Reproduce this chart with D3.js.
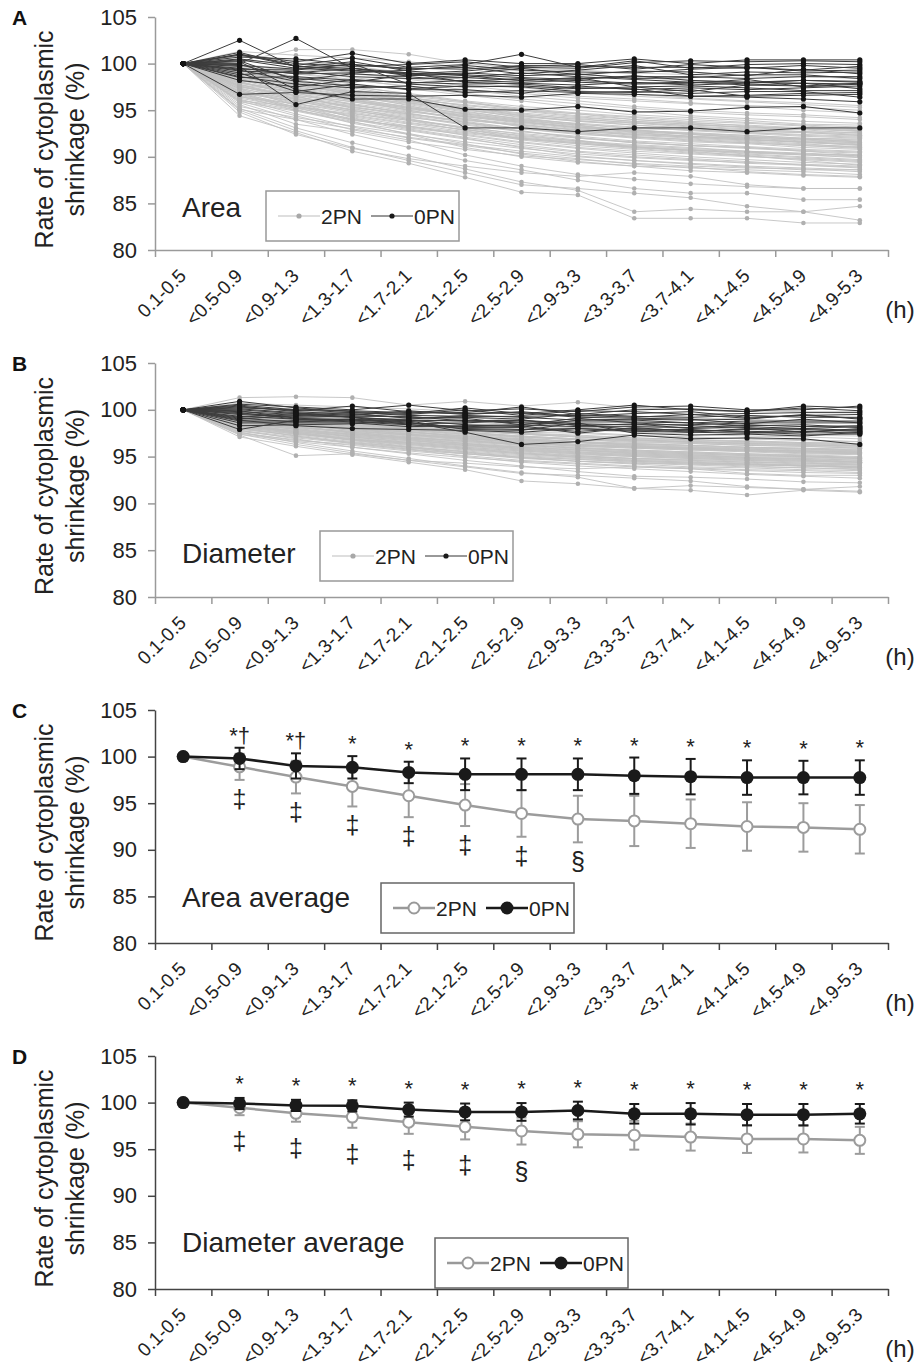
<!DOCTYPE html>
<html>
<head>
<meta charset="utf-8">
<script src="https://cdn.jsdelivr.net/npm/d3@7"></script>
<style>
  body { margin: 0; background: #fff; }
  svg { display: block; font-family: Arial, "Liberation Sans", sans-serif; }
</style>
</head>
<body>
<svg id="chart" width="917" height="1369"></svg>
<script>
// categories and axis ticks
const timeBins = ["0.1-0.5", "<0.5-0.9", "<0.9-1.3", "<1.3-1.7", "<1.7-2.1", "<2.1-2.5", "<2.5-2.9",
                  "<2.9-3.3", "<3.3-3.7", "<3.7-4.1", "<4.1-4.5", "<4.5-4.9", "<4.9-5.3"];
const yTicks = [80, 85, 90, 95, 100, 105];
const startValue = 100;

// Panel A - individual embryos, area (values from 2nd time bin on)
const areaLines2PN = [
  [99.5, 98.9, 98.2, 97.6, 97.0, 96.8, 96.3, 96.0, 95.7, 95.5, 95.3, 95.0],
  [98.2, 97.0, 96.1, 95.2, 94.5, 93.8, 93.1, 92.9, 92.4, 92.1, 91.9, 91.6],
  [97.1, 95.8, 94.2, 93.0, 92.1, 91.3, 90.6, 90.2, 89.8, 89.5, 89.1, 88.8],
  [96.0, 94.4, 92.9, 91.8, 90.2, 89.0, 88.1, 87.6, 87.1, 86.8, 86.6, 86.6],
  [95.2, 93.1, 91.5, 90.1, 88.7, 87.3, 86.4, 84.1, 84.4, 84.1, 84.1, 83.2],
  [94.4, 92.6, 90.6, 89.3, 87.8, 86.2, 85.9, 83.4, 83.4, 83.4, 82.9, 82.9],
  [99.0, 98.3, 97.4, 96.5, 95.9, 95.0, 94.6, 94.0, 93.7, 93.3, 93.0, 92.8],
  [98.7, 97.6, 96.8, 96.0, 95.1, 94.2, 93.5, 93.0, 92.9, 92.6, 92.3, 92.1],
  [101.3, 100.9, 100.6, 100.2, 99.6, 99.2, 98.8, 98.5, 98.2, 97.9, 97.6, 97.4],
  [100.2, 101.5, 101.5, 101.0, 100.0, 99.5, 99.3, 99.0, 98.8, 98.7, 98.6, 98.4],
  [97.6, 96.5, 95.3, 94.4, 93.5, 92.8, 92.0, 91.6, 91.2, 91.0, 90.6, 90.4],
  [96.8, 95.1, 93.6, 92.5, 91.4, 90.3, 89.5, 89.0, 88.5, 88.3, 88.0, 87.8],
  [95.8, 94.0, 92.4, 91.0, 89.6, 88.6, 87.5, 86.6, 86.1, 86.1, 85.4, 85.4],
  [99.8, 99.2, 98.5, 97.9, 97.2, 96.5, 96.0, 95.4, 95.0, 94.7, 94.5, 94.2],
  [98.0, 96.8, 95.6, 94.7, 93.7, 92.7, 92.1, 91.5, 91.2, 90.9, 90.6, 90.2],
  [97.3, 95.5, 94.0, 92.9, 92.0, 91.0, 90.1, 89.6, 89.2, 88.9, 88.6, 88.6],
  [99.2, 98.0, 97.1, 96.3, 95.5, 94.9, 94.3, 93.8, 93.5, 93.1, 92.9, 92.5],
  [98.4, 97.2, 96.4, 95.6, 94.6, 93.9, 93.4, 92.7, 92.4, 92.0, 91.7, 91.5],
  [96.5, 95.0, 93.8, 92.4, 91.0, 90.0, 89.4, 89.0, 88.9, 88.4, 88.1, 87.9],
  [100.8, 100.3, 99.7, 99.0, 98.3, 97.7, 97.1, 96.7, 96.3, 96.0, 95.8, 95.5],
  [97.8, 96.2, 95.0, 94.0, 93.2, 92.4, 91.8, 91.0, 90.7, 90.3, 90.0, 89.7],
  [99.6, 98.6, 97.8, 97.3, 96.6, 96.0, 95.3, 94.9, 94.4, 94.1, 93.8, 93.6],
  [98.9, 97.9, 96.6, 95.5, 94.2, 93.2, 92.6, 92.2, 91.8, 91.5, 91.2, 90.9],
  [95.0, 92.8, 91.0, 89.6, 88.3, 87.0, 86.6, 86.1, 85.6, 84.7, 84.1, 84.7],
  [97.4, 96.0, 94.8, 93.9, 92.8, 91.8, 91.2, 90.8, 90.4, 90.1, 89.7, 89.4],
  [100.5, 99.8, 99.0, 98.3, 97.6, 97.0, 96.5, 96.2, 95.8, 95.4, 95.0, 94.7],
  [98.6, 97.4, 96.1, 95.0, 94.0, 93.4, 92.9, 92.4, 92.1, 91.8, 91.6, 91.2],
  [96.2, 94.6, 93.2, 92.0, 91.2, 90.4, 89.8, 89.2, 88.8, 88.6, 88.4, 88.1],
  [99.3, 98.3, 97.2, 96.4, 95.4, 94.4, 93.8, 93.4, 93.0, 92.7, 92.6, 92.3],
  [97.9, 96.8, 95.9, 95.0, 94.1, 93.5, 92.8, 92.3, 92.0, 91.7, 91.4, 91.0],
  [98.1, 96.5, 95.2, 94.1, 93.0, 91.9, 91.4, 90.9, 90.5, 90.2, 89.9, 89.6],
  [99.9, 99.4, 98.9, 98.4, 98.0, 97.4, 96.9, 96.5, 96.2, 95.9, 95.6, 95.3],
  [96.9, 95.3, 93.9, 93.3, 92.6, 92.0, 91.5, 91.1, 90.6, 90.1, 89.6, 89.1],
  [98.5, 97.7, 97.0, 96.3, 95.8, 95.1, 94.6, 94.2, 93.8, 93.6, 93.3, 93.0],
  [97.0, 96.2, 95.5, 94.8, 94.3, 93.7, 93.2, 92.8, 92.5, 92.3, 92.0, 91.9],
  [99.1, 97.8, 96.9, 95.8, 94.9, 94.0, 93.4, 92.6, 92.2, 91.9, 91.5, 91.3],
  [95.6, 93.5, 92.7, 91.6, 90.8, 90.1, 89.7, 89.3, 89.0, 88.8, 88.7, 88.4],
  [98.3, 97.5, 96.6, 96.0, 95.3, 94.6, 94.0, 93.7, 93.3, 93.0, 92.7, 92.6],
  [97.5, 96.4, 95.6, 94.6, 93.8, 93.0, 92.5, 92.0, 91.6, 91.4, 91.0, 90.8],
  [99.4, 98.6, 97.5, 96.8, 96.0, 95.4, 95.0, 94.5, 94.2, 93.9, 93.5, 93.4],
  [96.6, 95.4, 94.5, 93.6, 92.9, 92.3, 91.7, 91.3, 91.0, 90.6, 90.4, 90.1],
  [98.8, 97.9, 96.9, 96.1, 95.6, 95.0, 94.4, 94.0, 93.6, 93.4, 93.1, 92.9],
  [94.8, 92.4, 90.9, 89.8, 89.0, 88.3, 87.9, 88.3, 87.9, 87.0, 86.6, 86.6],
  [97.7, 97.0, 96.4, 95.8, 95.0, 94.3, 93.8, 93.6, 93.4, 93.2, 93.0, 92.7],
  [96.4, 95.7, 94.9, 94.2, 93.6, 93.0, 92.6, 92.1, 91.9, 91.6, 91.3, 91.1],
  [97.2, 95.9, 95.0, 94.0, 93.1, 92.2, 91.7, 91.1, 90.8, 90.5, 90.2, 90.0],
  [98.4, 97.1, 96.0, 95.2, 94.3, 93.6, 93.0, 92.6, 92.2, 92.0, 91.8, 91.5],
  [96.7, 95.6, 94.3, 93.3, 92.3, 91.5, 90.9, 90.4, 90.0, 89.7, 89.4, 89.2],
  [97.9, 97.2, 96.2, 95.4, 94.7, 94.0, 93.6, 93.2, 92.8, 92.5, 92.2, 92.0],
  [95.9, 94.9, 93.7, 92.8, 91.9, 91.1, 90.5, 90.0, 89.7, 89.3, 89.1, 88.9],
  [99.0, 98.1, 97.0, 96.1, 95.2, 94.5, 94.1, 93.6, 93.2, 92.9, 92.7, 92.4],
  [96.3, 95.2, 94.1, 93.1, 92.4, 91.6, 91.0, 90.6, 90.3, 90.0, 89.8, 89.5],
  [98.6, 97.3, 96.3, 95.3, 94.4, 93.8, 93.2, 92.8, 92.6, 92.3, 92.0, 91.8],
  [97.5, 96.6, 95.7, 94.9, 94.0, 93.3, 92.7, 92.4, 92.1, 91.8, 91.6, 91.4],
  [95.4, 94.2, 93.3, 92.4, 91.6, 90.9, 90.3, 89.9, 89.6, 89.4, 89.2, 89.0],
  [98.2, 97.4, 96.5, 95.7, 94.8, 94.1, 93.5, 93.1, 92.9, 92.6, 92.4, 92.2],
  [96.8, 96.0, 95.1, 94.3, 93.4, 92.7, 92.2, 91.7, 91.4, 91.1, 90.8, 90.6],
  [99.3, 98.5, 97.6, 96.7, 95.9, 95.2, 94.7, 94.3, 94.0, 93.7, 93.4, 93.2],
  [97.0, 95.7, 94.7, 93.7, 92.9, 92.1, 91.6, 91.2, 90.9, 90.6, 90.3, 90.1],
  [98.0, 96.9, 96.1, 95.3, 94.6, 93.9, 93.3, 92.9, 92.5, 92.2, 91.9, 91.7],
  [96.1, 95.0, 94.0, 93.2, 92.5, 91.9, 91.4, 91.0, 90.7, 90.5, 90.3, 90.2],
  [99.7, 99.0, 98.3, 97.5, 96.8, 96.2, 95.7, 95.2, 94.8, 94.5, 94.3, 94.0],
  [97.3, 96.3, 95.4, 94.5, 93.7, 93.0, 92.4, 92.1, 91.7, 91.5, 91.2, 91.0],
  [98.5, 97.7, 96.7, 95.9, 95.1, 94.4, 93.9, 93.4, 93.1, 92.8, 92.6, 92.3],
  [96.5, 95.3, 94.4, 93.5, 92.7, 92.0, 91.5, 91.0, 90.7, 90.4, 90.2, 89.9],
  [97.7, 96.6, 95.9, 95.1, 94.4, 93.7, 93.1, 92.7, 92.4, 92.1, 91.9, 91.6],
  [95.1, 94.0, 93.0, 92.1, 91.3, 90.6, 90.0, 89.6, 89.3, 89.0, 88.8, 88.6],
  [98.9, 97.7, 96.8, 96.0, 95.3, 94.7, 94.2, 93.8, 93.5, 93.2, 93.0, 92.8],
  [96.0, 95.4, 94.6, 93.9, 93.1, 92.5, 92.0, 91.5, 91.2, 91.0, 90.7, 90.5],
  [97.6, 96.1, 95.3, 94.6, 93.9, 93.4, 92.9, 92.5, 92.2, 91.9, 91.6, 91.3]
];
const areaLines0PN = [
  [102.5, 99.6, 100.2, 99.2, 98.8, 98.5, 98.3, 98.7, 98.2, 98.0, 98.2, 98.0],
  [100.0, 102.7, 99.5, 98.8, 98.5, 99.0, 98.6, 98.3, 98.0, 98.0, 97.9, 97.8],
  [101.0, 100.2, 101.1, 100.0, 100.4, 100.0, 100.0, 100.5, 100.0, 100.4, 100.4, 100.4],
  [100.5, 99.8, 100.6, 99.6, 99.9, 101.0, 99.6, 100.3, 99.5, 99.9, 100.0, 99.9],
  [99.8, 99.4, 99.9, 99.5, 99.4, 99.8, 99.7, 99.6, 99.6, 99.5, 99.8, 99.5],
  [99.5, 98.9, 99.0, 99.3, 99.8, 99.3, 99.1, 99.0, 99.4, 99.6, 99.2, 99.3],
  [99.2, 99.0, 99.5, 98.7, 98.9, 99.5, 98.8, 99.2, 99.1, 98.7, 99.4, 98.9],
  [98.8, 99.2, 98.6, 98.4, 98.5, 98.2, 98.4, 98.6, 98.6, 98.4, 98.6, 98.6],
  [98.5, 98.6, 98.2, 98.0, 97.8, 97.9, 97.7, 98.0, 97.7, 97.9, 98.2, 98.1],
  [99.0, 97.0, 97.8, 97.2, 97.2, 96.8, 97.6, 97.2, 97.4, 97.2, 97.4, 97.6],
  [96.7, 96.9, 96.6, 96.5, 96.6, 96.4, 96.8, 96.7, 96.5, 96.6, 96.8, 96.9],
  [100.2, 97.2, 96.2, 96.2, 95.1, 95.0, 95.4, 94.8, 94.9, 95.3, 95.4, 94.7],
  [99.7, 95.6, 97.0, 96.8, 93.1, 93.1, 92.7, 93.1, 93.1, 92.7, 93.1, 93.1],
  [101.0, 99.7, 99.3, 98.9, 99.2, 99.7, 99.9, 99.4, 99.9, 99.6, 99.3, 99.7],
  [100.7, 100.5, 99.9, 99.4, 99.6, 98.9, 99.3, 99.8, 98.8, 99.1, 99.0, 99.1],
  [100.3, 98.2, 98.9, 98.6, 98.1, 98.4, 98.0, 97.8, 97.9, 98.3, 97.5, 97.8],
  [99.4, 99.3, 100.0, 97.8, 97.5, 97.6, 97.3, 97.5, 97.0, 97.7, 97.9, 97.3],
  [98.6, 97.8, 97.4, 97.6, 96.9, 97.1, 96.9, 97.0, 96.8, 97.0, 97.0, 96.4],
  [99.9, 98.4, 98.0, 98.8, 99.0, 98.7, 98.9, 98.4, 98.5, 98.8, 98.8, 98.4],
  [100.9, 100.0, 99.7, 99.9, 100.2, 99.6, 99.5, 100.1, 100.3, 100.2, 100.3, 100.2],
  [99.3, 98.1, 97.6, 97.3, 97.6, 97.5, 97.0, 96.9, 97.2, 96.5, 96.6, 96.7],
  [100.4, 99.5, 99.2, 99.0, 98.7, 98.2, 98.5, 97.5, 97.6, 97.4, 97.1, 97.1],
  [101.2, 99.7, 99.5, 99.0, 98.0, 97.8, 97.4, 97.3, 96.5, 96.4, 96.2, 95.9],
  [98.2, 97.5, 98.3, 97.9, 98.2, 98.0, 98.2, 97.9, 98.0, 97.7, 97.6, 97.9]
];

// Panel B - individual embryos, diameter
const diamLines2PN = [
  [99.8, 99.4, 99.1, 98.8, 98.5, 98.3, 98.1, 98.0, 97.8, 97.7, 97.6, 97.5],
  [99.1, 98.5, 98.0, 97.6, 97.2, 96.9, 96.6, 96.4, 96.2, 96.0, 95.9, 95.7],
  [98.5, 97.9, 97.1, 96.5, 96.0, 95.6, 95.2, 95.0, 94.8, 94.6, 94.4, 94.2],
  [98.0, 97.2, 96.4, 95.8, 95.0, 94.4, 94.0, 93.7, 93.4, 93.1, 92.9, 92.7],
  [97.6, 96.5, 95.6, 94.8, 94.0, 93.3, 92.8, 91.6, 91.9, 91.7, 91.5, 91.3],
  [97.1, 96.1, 95.2, 94.4, 93.6, 92.4, 92.1, 91.6, 91.4, 90.9, 91.4, 91.2],
  [99.5, 99.1, 98.7, 98.3, 97.9, 97.5, 97.3, 97.0, 96.8, 96.6, 96.5, 96.4],
  [99.3, 98.8, 98.4, 97.9, 97.5, 97.1, 96.8, 96.5, 96.4, 96.2, 96.1, 95.9],
  [100.7, 100.5, 100.3, 100.1, 99.8, 99.6, 99.4, 99.3, 99.1, 99.0, 98.8, 98.7],
  [101.3, 101.4, 101.3, 100.5, 100.9, 100.4, 100.8, 100.2, 100.0, 99.9, 99.8, 99.8],
  [98.8, 98.2, 97.6, 97.1, 96.7, 96.3, 95.9, 95.7, 95.5, 95.3, 95.1, 94.9],
  [98.4, 97.5, 96.7, 96.1, 95.5, 94.9, 94.5, 94.2, 93.9, 93.8, 93.6, 93.5],
  [97.8, 96.9, 96.0, 95.3, 94.6, 94.0, 93.4, 92.9, 92.8, 92.6, 92.3, 92.2],
  [99.9, 99.6, 99.2, 98.9, 98.5, 98.2, 97.9, 97.6, 97.4, 97.2, 97.1, 96.9],
  [99.0, 98.4, 97.8, 97.3, 96.8, 96.2, 95.9, 95.6, 95.4, 95.2, 95.0, 94.8],
  [98.6, 97.6, 96.9, 96.4, 95.9, 95.4, 94.9, 94.6, 94.4, 94.2, 94.0, 93.9],
  [99.6, 99.0, 98.5, 98.1, 97.7, 97.4, 97.1, 96.8, 96.6, 96.4, 96.3, 96.1],
  [99.2, 98.6, 98.1, 97.6, 97.1, 96.7, 96.5, 96.1, 95.9, 95.8, 95.6, 95.5],
  [98.2, 97.4, 96.8, 96.0, 95.3, 94.8, 94.5, 94.3, 94.2, 94.0, 93.8, 93.7],
  [100.4, 100.1, 99.8, 99.5, 99.2, 98.8, 98.5, 98.3, 98.1, 97.9, 97.8, 97.7],
  [98.9, 98.0, 97.4, 96.9, 96.4, 96.0, 95.7, 95.3, 95.1, 94.9, 94.8, 94.6],
  [99.8, 99.3, 98.9, 98.6, 98.2, 97.9, 97.6, 97.3, 97.1, 96.9, 96.8, 96.6],
  [99.4, 98.9, 98.2, 97.7, 97.0, 96.5, 96.2, 96.0, 95.8, 95.6, 95.4, 95.3],
  [97.4, 96.3, 95.4, 94.6, 93.9, 93.2, 93.0, 92.7, 92.4, 91.8, 91.5, 91.8],
  [98.7, 97.9, 97.3, 96.8, 96.2, 95.7, 95.4, 95.2, 95.0, 94.8, 94.6, 94.4],
  [100.2, 99.9, 99.5, 99.1, 98.7, 98.4, 98.1, 97.9, 97.7, 97.5, 97.3, 97.2],
  [99.3, 98.6, 98.0, 97.4, 96.9, 96.6, 96.3, 96.1, 95.9, 95.7, 95.6, 95.4],
  [98.1, 97.2, 96.5, 95.9, 95.4, 95.0, 94.7, 94.4, 94.2, 94.1, 94.0, 93.8],
  [99.6, 99.1, 98.6, 98.2, 97.6, 97.1, 96.8, 96.6, 96.4, 96.2, 96.1, 95.9],
  [98.9, 98.3, 97.9, 97.4, 97.0, 96.7, 96.3, 96.1, 95.9, 95.7, 95.6, 95.4],
  [99.0, 98.2, 97.5, 96.9, 96.4, 95.8, 95.5, 95.2, 95.0, 94.8, 94.7, 94.5],
  [100.0, 99.7, 99.4, 99.2, 98.9, 98.6, 98.4, 98.2, 98.0, 97.9, 97.7, 97.6],
  [98.4, 97.6, 96.8, 96.5, 96.2, 95.9, 95.6, 95.4, 95.2, 94.9, 94.7, 94.4],
  [99.3, 98.8, 98.5, 98.1, 97.9, 97.5, 97.2, 97.0, 96.8, 96.7, 96.5, 96.4],
  [98.5, 98.1, 97.7, 97.3, 97.1, 96.8, 96.5, 96.3, 96.2, 96.0, 95.9, 95.8],
  [99.5, 98.9, 98.4, 97.9, 97.4, 97.0, 96.6, 96.2, 96.0, 95.8, 95.6, 95.5],
  [97.6, 96.7, 96.3, 95.7, 95.3, 94.9, 94.7, 94.5, 94.3, 94.2, 94.1, 93.9],
  [99.1, 98.7, 98.3, 98.0, 97.6, 97.2, 96.9, 96.8, 96.5, 96.4, 96.2, 96.2],
  [98.7, 98.1, 97.7, 97.2, 96.8, 96.4, 96.1, 95.9, 95.7, 95.6, 95.4, 95.3],
  [99.7, 99.3, 98.7, 98.4, 98.0, 97.6, 97.5, 97.2, 97.0, 96.9, 96.7, 96.6],
  [98.3, 97.7, 97.2, 96.7, 96.3, 96.0, 95.7, 95.5, 95.3, 95.1, 95.0, 94.8],
  [99.4, 98.9, 98.4, 98.0, 97.8, 97.4, 97.1, 96.9, 96.7, 96.6, 96.4, 96.3],
  [97.3, 95.1, 95.3, 94.6, 94.3, 93.9, 93.7, 93.9, 93.7, 93.2, 93.0, 93.0],
  [98.8, 98.4, 98.1, 97.8, 97.4, 97.1, 96.8, 96.7, 96.6, 96.5, 96.4, 96.2],
  [98.1, 97.8, 97.4, 97.0, 96.7, 96.4, 96.2, 96.0, 95.9, 95.7, 95.6, 95.5],
  [98.6, 97.9, 97.3, 96.8, 96.3, 95.9, 95.5, 95.3, 95.1, 94.9, 94.8, 94.6],
  [99.2, 98.5, 97.9, 97.4, 96.9, 96.5, 96.2, 96.0, 95.8, 95.6, 95.5, 95.3],
  [98.3, 97.6, 97.0, 96.4, 95.9, 95.5, 95.1, 94.8, 94.6, 94.4, 94.3, 94.1],
  [99.0, 98.4, 97.8, 97.3, 96.9, 96.5, 96.1, 95.9, 95.7, 95.5, 95.3, 95.2],
  [97.9, 97.3, 96.6, 96.0, 95.5, 95.1, 94.8, 94.5, 94.3, 94.1, 94.0, 93.8],
  [99.4, 98.7, 98.1, 97.6, 97.2, 96.8, 96.5, 96.2, 96.0, 95.9, 95.7, 95.6],
  [98.1, 97.5, 96.9, 96.3, 95.8, 95.3, 95.0, 94.7, 94.5, 94.3, 94.1, 94.0],
  [98.8, 98.2, 97.5, 97.0, 96.5, 96.1, 95.8, 95.5, 95.3, 95.1, 95.0, 94.8],
  [97.7, 97.0, 96.4, 95.8, 95.3, 94.9, 94.5, 94.3, 94.1, 93.9, 93.8, 93.6],
  [99.5, 98.9, 98.3, 97.8, 97.3, 96.9, 96.6, 96.4, 96.2, 96.0, 95.8, 95.7],
  [98.4, 97.8, 97.2, 96.7, 96.2, 95.8, 95.4, 95.1, 94.9, 94.7, 94.6, 94.4],
  [99.0, 98.3, 97.6, 97.1, 96.6, 96.3, 96.0, 95.7, 95.5, 95.3, 95.2, 95.0],
  [97.8, 97.1, 96.5, 96.0, 95.6, 95.2, 94.9, 94.6, 94.4, 94.2, 94.0, 93.9],
  [99.3, 98.8, 98.2, 97.7, 97.2, 96.8, 96.5, 96.3, 96.1, 95.9, 95.8, 95.6],
  [98.5, 97.7, 97.1, 96.5, 96.0, 95.6, 95.3, 95.0, 94.8, 94.6, 94.5, 94.3],
  [98.0, 97.4, 96.8, 96.2, 95.7, 95.3, 95.0, 94.8, 94.6, 94.4, 94.2, 94.1],
  [99.6, 99.0, 98.5, 98.0, 97.6, 97.2, 96.9, 96.7, 96.5, 96.3, 96.2, 96.0],
  [98.7, 98.0, 97.4, 96.9, 96.4, 96.0, 95.7, 95.4, 95.2, 95.0, 94.9, 94.7],
  [97.5, 96.8, 96.2, 95.6, 95.1, 94.6, 94.3, 94.0, 93.8, 93.6, 93.5, 93.3],
  [99.1, 98.6, 98.0, 97.5, 97.0, 96.6, 96.3, 96.0, 95.8, 95.7, 95.5, 95.4],
  [98.2, 97.7, 97.1, 96.6, 96.1, 95.7, 95.3, 95.1, 94.9, 94.7, 94.5, 94.4],
  [98.9, 98.1, 97.6, 97.0, 96.6, 96.2, 95.9, 95.6, 95.4, 95.2, 95.1, 94.9],
  [97.4, 96.6, 96.0, 95.4, 94.9, 94.5, 94.2, 93.9, 93.7, 93.5, 93.3, 93.2],
  [99.8, 99.2, 98.7, 98.2, 97.8, 97.4, 97.1, 96.8, 96.6, 96.4, 96.3, 96.1],
  [98.3, 97.5, 96.8, 96.3, 95.8, 95.4, 95.1, 94.8, 94.7, 94.5, 94.3, 94.2]
];
const diamLines0PN = [
  [100.9, 100.2, 99.8, 99.6, 100.2, 99.6, 100.0, 100.5, 100.0, 99.8, 100.4, 100.2],
  [100.6, 100.3, 100.0, 100.5, 99.9, 100.1, 99.8, 100.3, 100.4, 100.0, 100.0, 100.4],
  [100.3, 99.9, 100.4, 99.8, 99.7, 100.3, 99.5, 100.0, 100.1, 99.8, 100.2, 99.9],
  [100.0, 99.6, 99.7, 99.5, 100.0, 99.4, 99.9, 99.8, 99.5, 99.6, 99.7, 99.7],
  [99.8, 99.5, 99.4, 99.9, 99.5, 99.8, 99.3, 99.6, 99.8, 99.2, 99.4, 99.5],
  [99.6, 99.3, 99.6, 99.1, 99.2, 99.0, 99.6, 99.3, 99.2, 99.4, 99.2, 99.2],
  [99.3, 99.0, 99.0, 99.0, 99.4, 99.2, 98.9, 99.0, 98.9, 99.0, 99.5, 99.0],
  [99.0, 99.4, 99.2, 98.8, 98.9, 98.7, 98.7, 98.7, 98.6, 98.8, 98.8, 98.8],
  [98.8, 98.8, 98.8, 98.5, 98.6, 98.9, 98.5, 98.4, 98.4, 98.6, 98.6, 98.6],
  [98.6, 98.6, 98.6, 98.2, 98.3, 98.4, 98.2, 98.2, 98.1, 98.4, 98.2, 98.3],
  [97.9, 98.9, 99.0, 98.7, 97.6, 96.3, 96.6, 97.3, 96.9, 97.0, 96.9, 96.3],
  [100.1, 99.7, 99.2, 98.4, 98.0, 97.9, 98.0, 97.8, 97.9, 97.6, 97.4, 97.4],
  [99.5, 99.2, 99.3, 99.3, 98.8, 98.6, 98.4, 97.9, 97.6, 98.0, 97.9, 97.7],
  [100.4, 99.8, 99.5, 99.2, 99.1, 98.4, 99.1, 98.6, 98.3, 98.1, 97.6, 97.9],
  [99.1, 98.7, 98.9, 98.6, 98.1, 98.1, 97.7, 98.0, 97.8, 97.7, 97.6, 98.0],
  [98.3, 98.4, 98.5, 98.9, 98.4, 98.2, 98.9, 98.9, 98.6, 98.3, 98.4, 98.1],
  [100.2, 100.0, 99.9, 99.7, 99.6, 99.7, 99.2, 99.1, 99.0, 98.5, 99.0, 98.6],
  [99.9, 99.1, 98.9, 98.8, 97.9, 97.8, 98.6, 97.5, 97.3, 97.4, 97.2, 97.6],
  [99.2, 99.6, 99.2, 98.9, 98.8, 98.9, 98.3, 98.5, 98.0, 98.2, 98.0, 97.8],
  [100.5, 100.0, 99.7, 99.4, 99.3, 99.3, 99.4, 99.2, 99.5, 99.1, 99.4, 99.1],
  [99.7, 99.0, 98.7, 98.4, 98.2, 98.3, 97.5, 98.1, 97.7, 97.9, 98.0, 98.2],
  [98.9, 98.3, 98.0, 97.9, 97.8, 97.6, 98.0, 97.7, 97.6, 97.5, 97.7, 97.5]
];

// Panel C - area, mean and SD
const areaMean2PN = [100, 98.9, 97.8, 96.8, 95.8, 94.8, 93.9, 93.3, 93.1, 92.8, 92.5, 92.4, 92.2];
const areaSd2PN   = [0, 1.4, 1.75, 2.15, 2.3, 2.25, 2.5, 2.5, 2.7, 2.6, 2.6, 2.6, 2.6];
const areaMean0PN = [100, 99.8, 99.0, 98.85, 98.3, 98.1, 98.1, 98.1, 97.95, 97.85, 97.75, 97.75, 97.75];
const areaSd0PN   = [0, 1.15, 1.35, 1.2, 1.15, 1.7, 1.7, 1.7, 1.95, 1.9, 1.85, 1.8, 1.85];
const areaSig0PN  = ["", "*\u2020", "*\u2020", "*", "*", "*", "*", "*", "*", "*", "*", "*", "*"];
const areaSig2PN  = ["", "\u2021", "\u2021", "\u2021", "\u2021", "\u2021", "\u2021", "\u00a7", "", "", "", "", ""];

// Panel D - diameter, mean and SD
const diamMean2PN = [100, 99.45, 98.85, 98.45, 97.9, 97.4, 96.95, 96.6, 96.5, 96.3, 96.1, 96.1, 95.95];
const diamSd2PN   = [0, 0.8, 0.9, 1.15, 1.25, 1.35, 1.45, 1.4, 1.55, 1.45, 1.5, 1.45, 1.45];
const diamMean0PN = [100, 99.9, 99.7, 99.65, 99.25, 99.0, 99.0, 99.15, 98.8, 98.8, 98.7, 98.7, 98.8];
const diamSd0PN   = [0, 0.6, 0.6, 0.6, 0.75, 0.9, 0.95, 0.95, 1.05, 1.15, 1.15, 1.15, 1.05];
const diamSig0PN  = ["", "*", "*", "*", "*", "*", "*", "*", "*", "*", "*", "*", "*"];
const diamSig2PN  = ["", "\u2021", "\u2021", "\u2021", "\u2021", "\u2021", "\u00a7", "", "", "", "", "", ""];

const svg = d3.select("#chart");
const left = 155, right = 888;
const ink = "#222";

const x = d3.scaleBand().domain(timeBins).range([left, right]);
const xc = d => x(d) + x.bandwidth() / 2;
const xTickScale = d3.scaleLinear().domain([0, timeBins.length]).range([left, right]);

function frame(top, bottom, letter, axisColor) {
    const y = d3.scaleLinear().domain([80, 105]).range([bottom, top]);
    const g = svg.append("g");

    // y axis
    const ya = g.append("g")
        .attr("transform", `translate(${left},0)`)
        .call(d3.axisLeft(y).tickValues(yTicks).tickSize(7).tickSizeOuter(0).tickPadding(11));
    ya.select(".domain").attr("stroke", axisColor).attr("stroke-width", 1.5);
    ya.selectAll(".tick line").attr("stroke", axisColor).attr("stroke-width", 1.5);
    ya.selectAll(".tick text").attr("font-size", 22).attr("fill", ink).attr("font-family", null);

    // x axis: ticks on category boundaries
    const xa = g.append("g")
        .attr("transform", `translate(0,${bottom})`)
        .call(d3.axisBottom(xTickScale).tickValues(d3.range(timeBins.length + 1))
            .tickSize(7).tickSizeOuter(0).tickFormat(""));
    xa.select(".domain").attr("stroke", axisColor).attr("stroke-width", 1.5);
    xa.selectAll(".tick line").attr("stroke", axisColor).attr("stroke-width", 1.5);

    g.selectAll(".xlab").data(timeBins).enter().append("text")
        .attr("class", "xlab")
        .attr("transform", d => `translate(${xc(d) + 4},${bottom + 27}) rotate(-45)`)
        .attr("text-anchor", "end")
        .attr("font-size", 19)
        .attr("fill", ink)
        .text(d => d);

    g.append("text")
        .attr("x", 900).attr("y", bottom + 68)
        .attr("text-anchor", "middle")
        .attr("font-size", 24).attr("fill", ink)
        .text("(h)");

    // y title
    const cy = (top + bottom) / 2 + 6;
    g.append("text")
        .attr("transform", `translate(53,${cy}) rotate(-90)`)
        .attr("text-anchor", "middle").attr("font-size", 25).attr("fill", ink)
        .text("Rate of cytoplasmic");
    g.append("text")
        .attr("transform", `translate(84,${cy}) rotate(-90)`)
        .attr("text-anchor", "middle").attr("font-size", 25).attr("fill", ink)
        .text("shrinkage (%)");

    g.append("text")
        .attr("x", 12).attr("y", top + 8)
        .attr("font-size", 21).attr("font-weight", "bold").attr("fill", "#111")
        .text(letter);

    return { g, y };
}

function legend(g, bx, by, filled) {
    const w = 193, h = 50, cy = by + h / 2;
    g.append("rect").attr("x", bx).attr("y", by).attr("width", w).attr("height", h)
        .attr("fill", "#fff").attr("stroke", filled ? "#999" : "#666").attr("stroke-width", 1.5);
    const items = [
        { name: "2PN", x0: 12, color: filled ? "#bdbdbd" : "#999", dot: filled ? "#a8a8a8" : "#fff" },
        { name: "0PN", x0: 105, color: filled ? "#333" : "#1a1a1a", dot: "#1a1a1a" }
    ];
    items.forEach((it, i) => {
        g.append("line").attr("x1", bx + it.x0).attr("x2", bx + it.x0 + 42)
            .attr("y1", cy).attr("y2", cy)
            .attr("stroke", it.color).attr("stroke-width", filled ? 1 : 2.5);
        const c = g.append("circle").attr("cx", bx + it.x0 + 21).attr("cy", cy);
        if (filled) {
            c.attr("r", 2.6).attr("fill", it.dot);
        } else if (i === 0) {
            c.attr("r", 5.5).attr("fill", "#fff").attr("stroke", "#999").attr("stroke-width", 2);
        } else {
            c.attr("r", 6.5).attr("fill", "#1a1a1a");
        }
        g.append("text").attr("x", bx + it.x0 + 43).attr("y", cy + 7.5)
            .attr("font-size", 21).attr("fill", ink).text(it.name);
    });
}

function spaghetti(cfg, lines2, lines0) {
    const { g, y } = frame(cfg.top, cfg.bottom, cfg.letter, "#9a9a9a");
    const line = d3.line().x((v, i) => xc(timeBins[i])).y(v => y(v));
    const groups = [
        { rows: lines2, stroke: "#c2c2c2", dot: "#b0b0b0", r: 2.3, w: 0.9 },
        { rows: lines0, stroke: "#3c3c3c", dot: "#151515", r: 2.6, w: 1 }
    ];
    groups.forEach(grp => {
        const full = grp.rows.map(r => [startValue].concat(r));
        g.append("g").selectAll("path").data(full).enter().append("path")
            .attr("d", line).attr("fill", "none")
            .attr("stroke", grp.stroke).attr("stroke-width", grp.w);
        const pts = full.flatMap(r => r.map((v, i) => ({ v, i })));
        g.append("g").selectAll("circle").data(pts).enter().append("circle")
            .attr("cx", d => xc(timeBins[d.i])).attr("cy", d => y(d.v))
            .attr("r", grp.r).attr("fill", grp.dot);
    });
    g.append("text").attr("x", 182).attr("y", cfg.top + 200)
        .attr("font-size", 28).attr("fill", ink).text(cfg.label);
    legend(g, cfg.legendX, cfg.top + cfg.legendDy, true);
}

function averages(cfg, m2, s2, m0, s0, sig0, sig2) {
    const { g, y } = frame(cfg.top, cfg.bottom, cfg.letter, "#444");
    const line = d3.line().x((v, i) => xc(timeBins[i])).y(v => y(v));
    const series = [
        { m: m2, s: s2, color: "#9c9c9c", open: true },
        { m: m0, s: s0, color: "#1a1a1a", open: false }
    ];
    series.forEach(se => {
        const bars = se.m.map((v, i) => ({ v, sd: se.s[i], i })).filter(d => d.sd > 0);
        const eb = g.append("g").attr("stroke", se.color).attr("stroke-width", 2);
        bars.forEach(d => {
            const cx = xc(timeBins[d.i]);
            eb.append("line").attr("x1", cx).attr("x2", cx)
                .attr("y1", y(d.v - d.sd)).attr("y2", y(d.v + d.sd));
            [d.v - d.sd, d.v + d.sd].forEach(e => {
                eb.append("line").attr("x1", cx - 5).attr("x2", cx + 5)
                    .attr("y1", y(e)).attr("y2", y(e));
            });
        });
        g.append("path").attr("d", line(se.m)).attr("fill", "none")
            .attr("stroke", se.color).attr("stroke-width", 2.5);
        g.append("g").selectAll("circle").data(se.m).enter().append("circle")
            .attr("cx", (v, i) => xc(timeBins[i])).attr("cy", v => y(v))
            .attr("r", se.open ? 5.5 : 6.5)
            .attr("fill", se.open ? "#fff" : "#1a1a1a")
            .attr("stroke", se.open ? se.color : "none")
            .attr("stroke-width", 2);
    });
    // significance marks
    g.append("g").selectAll("text").data(sig0).enter().append("text")
        .attr("x", (s, i) => xc(timeBins[i]))
        .attr("y", (s, i) => y(m0[i] + s0[i]) - cfg.starGap)
        .attr("text-anchor", "middle").attr("font-size", 22).attr("fill", ink)
        .text(s => s);
    g.append("g").selectAll("text").data(sig2).enter().append("text")
        .attr("x", (s, i) => xc(timeBins[i]))
        .attr("y", (s, i) => y(m2[i] - s2[i]) + cfg.daggerGap)
        .attr("text-anchor", "middle").attr("font-size", 25).attr("fill", ink)
        .text(s => s);
    g.append("text").attr("x", 182).attr("y", cfg.top + cfg.labelDy)
        .attr("font-size", 28).attr("fill", ink).text(cfg.label);
    legend(g, cfg.legendX, cfg.top + cfg.legendDy, false);
}

spaghetti({ top: 17, bottom: 250, letter: "A", label: "Area", legendX: 266, legendDy: 174 },
    areaLines2PN, areaLines0PN);
spaghetti({ top: 363, bottom: 597, letter: "B", label: "Diameter", legendX: 320, legendDy: 168 },
    diamLines2PN, diamLines0PN);
averages({ top: 710, bottom: 943, letter: "C", label: "Area average", labelDy: 197,
           legendX: 381, legendDy: 173, starGap: 5, daggerGap: 28 },
    areaMean2PN, areaSd2PN, areaMean0PN, areaSd0PN, areaSig0PN, areaSig2PN);
averages({ top: 1056, bottom: 1289, letter: "D", label: "Diameter average", labelDy: 196,
           legendX: 435, legendDy: 182, starGap: 7, daggerGap: 35 },
    diamMean2PN, diamSd2PN, diamMean0PN, diamSd0PN, diamSig0PN, diamSig2PN);
</script>
</body>
</html>
